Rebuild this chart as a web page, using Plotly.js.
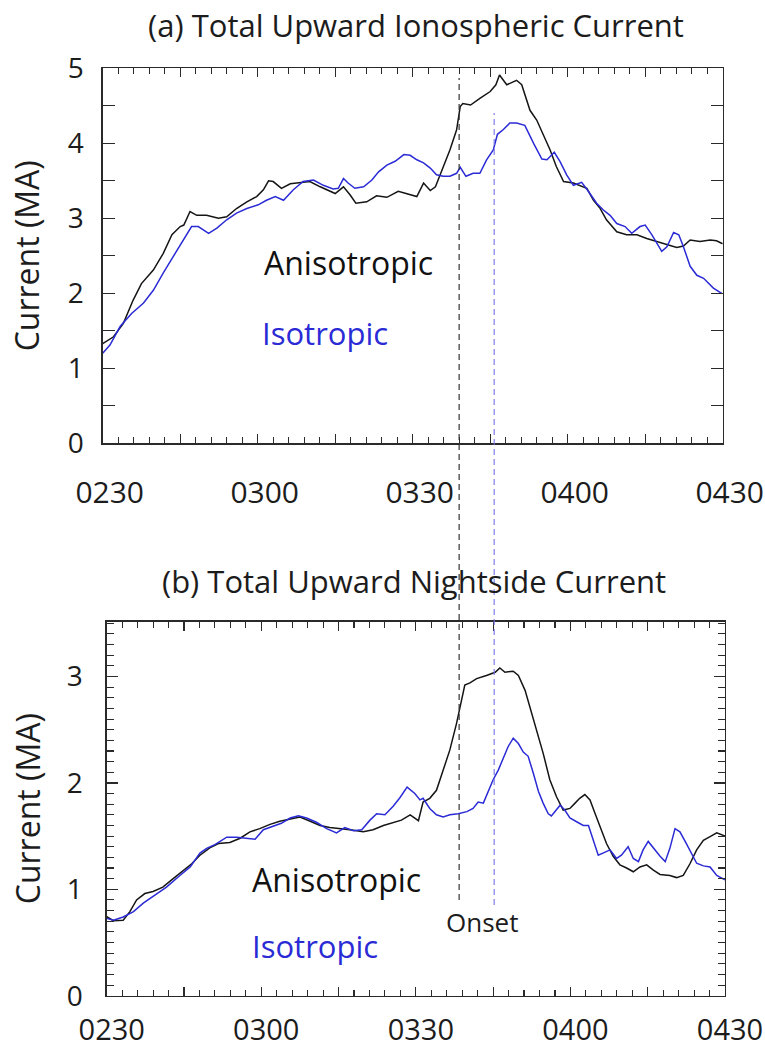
<!DOCTYPE html>
<html>
<head>
<meta charset="utf-8">
<script src="https://cdn.plot.ly/plotly-3.0.1.min.js"></script>
<style>html,body{margin:0;padding:0;background:#fff;}</style>
</head>
<body>
<div id="chart" style="width:765px;height:1047px;"></div>
<script>
// ---------- DATA (time in minutes after 02:30 UT, current in MA) ----------
const topAnisoT = [0,2.1,4.0,5.9,7.5,9.8,11.7,13.4,15.0,15.7,16.9,18.2,20.1,22.4,24.0,25.9,27.9,29.8,31.1,32.1,33.0,34.6,36.3,38.2,40.1,42.1,44.0,45.0,46.6,47.9,49.0,51.1,53.0,55.0,57.2,58.8,60.8,62.1,63.4,64.4,65.6,67.2,68.5,69.2,69.7,71.2,73.0,75.0,76.1,76.8,78.2,80.1,81.1,82.7,84.0,85.3,86.6,87.8,89.2,91.1,92.4,93.7,95.0,96.3,97.5,99.5,101.4,103.4,105.3,107.2,109.2,111.1,112.4,113.7,115.6,117.6,118.8,120];
const topAnisoV = [1.33,1.42,1.6,1.91,2.13,2.31,2.53,2.78,2.89,2.91,3.09,3.04,3.04,3.0,3.02,3.13,3.22,3.29,3.38,3.5,3.49,3.4,3.46,3.48,3.49,3.42,3.36,3.33,3.42,3.31,3.2,3.22,3.3,3.28,3.36,3.33,3.29,3.47,3.37,3.42,3.64,3.91,4.18,4.49,4.53,4.51,4.6,4.69,4.78,4.91,4.78,4.84,4.78,4.44,4.31,4.11,3.91,3.69,3.49,3.47,3.44,3.4,3.24,3.13,2.98,2.82,2.78,2.78,2.73,2.69,2.64,2.61,2.63,2.71,2.69,2.71,2.7,2.66];

const topIsoT = [0,1.4,3.4,5.6,7.9,9.8,11.7,13.7,15.6,17.2,18.5,20.5,22.1,24.0,25.9,27.9,30.1,31.7,33.4,35.0,36.9,38.8,40.8,42.7,44.6,45.6,46.6,47.5,48.8,50.5,52.1,53.4,55.0,56.6,58.3,59.5,60.8,62.1,63.4,64.6,65.9,67.2,68.5,69.2,70.3,71.7,73.0,74.3,75.6,76.4,77.5,78.8,80.1,81.7,83.4,85.0,86.0,87.4,88.5,89.8,91.1,92.7,94.0,95.6,96.9,98.2,99.5,101.1,102.4,104.0,105.0,106.3,108.2,109.2,110.5,111.5,112.4,113.7,115.0,116.3,118.2,119.8];
const topIsoV = [1.2,1.31,1.56,1.73,1.87,2.04,2.27,2.49,2.71,2.89,2.89,2.8,2.87,2.98,3.07,3.13,3.18,3.24,3.29,3.24,3.38,3.49,3.51,3.44,3.39,3.4,3.53,3.47,3.4,3.42,3.51,3.62,3.71,3.76,3.85,3.84,3.78,3.74,3.67,3.58,3.56,3.56,3.6,3.68,3.56,3.6,3.6,3.78,3.91,4.12,4.18,4.27,4.27,4.24,4.0,3.79,3.78,3.88,3.76,3.58,3.44,3.48,3.36,3.2,3.11,3.04,2.93,2.89,2.8,2.89,2.91,2.78,2.56,2.62,2.81,2.78,2.62,2.36,2.24,2.2,2.07,2.0];

const botAnisoT = [0,1.3,3.2,4.5,5.8,7.4,9.0,10.9,12.9,14.9,16.5,18.1,20.0,21.7,23.9,25.9,27.8,29.7,31.7,33.6,35.6,37.5,39.5,41.4,43.3,45.3,47.2,49.8,51.7,53.7,55.6,57.2,58.9,60.5,61.4,62.7,64.0,65.3,66.6,67.9,68.9,69.5,70.5,71.8,73.7,75.4,76.3,77.3,78.9,79.9,81.2,82.1,83.4,84.7,86.0,87.3,88.6,89.9,90.9,91.8,92.8,93.8,94.8,95.7,97.0,98.3,99.6,100.9,102.2,103.5,104.8,106.1,107.4,109.3,110.6,111.9,113.2,114.5,115.8,117.1,118.4,120];
const botAnisoV = [0.743,0.705,0.71,0.79,0.9,0.96,0.98,1.02,1.10,1.18,1.24,1.32,1.39,1.43,1.44,1.48,1.54,1.57,1.61,1.64,1.66,1.68,1.64,1.60,1.58,1.57,1.56,1.54,1.56,1.60,1.63,1.65,1.70,1.645,1.82,1.855,1.93,2.12,2.31,2.56,2.78,2.92,2.94,2.98,3.01,3.04,3.08,3.04,3.05,3.01,2.87,2.72,2.50,2.28,2.03,1.87,1.745,1.76,1.81,1.855,1.89,1.84,1.71,1.59,1.43,1.31,1.23,1.20,1.165,1.21,1.23,1.18,1.14,1.13,1.11,1.13,1.24,1.37,1.46,1.495,1.53,1.50];

const botIsoT = [0,1.3,3.2,5.2,7.1,9.0,11.6,14.2,16.2,18.1,19.4,21.0,23.3,25.2,27.2,28.8,30.4,32.3,33.9,35.6,37.2,38.8,40.7,42.7,44.6,46.2,47.9,49.5,51.1,52.4,54.0,55.6,56.9,58.3,59.8,60.8,61.4,62.7,64.0,65.3,66.6,68.2,69.9,71.1,72.1,73.1,74.1,75.0,76.0,77.0,77.9,78.9,79.9,80.85,81.8,82.8,83.8,84.7,85.7,86.3,87.3,88.0,88.9,89.9,91.2,92.5,93.5,94.4,95.4,96.3,97.7,98.95,99.9,101.2,102.2,103.2,104.1,105.1,106.4,107.4,108.4,109.3,110.3,111.25,112.5,113.5,114.5,115.8,117.1,118.4,120];
const botIsoV = [0.727,0.71,0.74,0.79,0.87,0.93,1.02,1.13,1.21,1.34,1.385,1.42,1.49,1.49,1.48,1.47,1.56,1.59,1.62,1.67,1.69,1.67,1.63,1.57,1.53,1.58,1.55,1.56,1.65,1.71,1.70,1.78,1.86,1.96,1.90,1.84,1.855,1.76,1.70,1.68,1.70,1.71,1.73,1.76,1.82,1.81,1.92,2.03,2.12,2.23,2.34,2.42,2.37,2.29,2.25,2.09,1.92,1.81,1.71,1.69,1.745,1.79,1.745,1.67,1.635,1.60,1.60,1.46,1.32,1.34,1.37,1.29,1.32,1.40,1.29,1.26,1.37,1.45,1.37,1.31,1.26,1.385,1.57,1.54,1.43,1.34,1.245,1.22,1.21,1.13,1.09];

const timeTickVals = [0,30,60,90,120];
const timeTickText = ['0230','0300','0330','0400','0430'];
const topYLabelVals = [0,1,2,3,4,5];
const botYLabelVals = [0,1,2,3];
const onsetTimes = [68.4, 75.2];   // black (anisotropic) and blue (isotropic) onsets
const onsetLabel = 'Onset';

// ---------- LAYOUT HELPERS ----------
const W = 765, H = 1047, ml = 60, mr = 20, mt = 40, mb = 30;
const PW = W - ml - mr, PH = H - mt - mb;
const px = X => (X - ml) / PW;
const py = Y => (H - mb - Y) / PH;

const FONT = '"Open Sans", "Noto Sans", sans-serif';
const INK = '#1c1c1c';
const AX = '#2a2a2a';
const BLUE = '#2b2bd6';

// major time ticks every 15 min, labels every 30 min
const xMajorVals = [], xMajorText = [];
timeTickVals.forEach((v, i) => {
  xMajorVals.push(v); xMajorText.push(timeTickText[i]);
  if (i < timeTickVals.length - 1) { xMajorVals.push((v + timeTickVals[i + 1]) / 2); xMajorText.push(''); }
});
// top panel y ticks every 0.5, labels on integers
const topYVals = [], topYText = [];
topYLabelVals.forEach((v, i) => {
  topYVals.push(v); topYText.push(String(v));
  if (i < topYLabelVals.length - 1) { topYVals.push(v + 0.5); topYText.push(''); }
});

function xAxis(domain, anchor, shift, standoff, fsize) {
  return {
    domain: domain, anchor: anchor, range: [0, 120],
    tickmode: 'array', tickvals: xMajorVals, ticktext: xMajorText,
    ticks: 'inside', ticklen: 9, tickwidth: 1.2, tickcolor: AX,
    minor: {tickmode: 'linear', tick0: 0, dtick: 3, ticks: 'inside', ticklen: 6, tickwidth: 1.1, tickcolor: AX},
    showline: true, linecolor: AX, linewidth: 1.3, mirror: 'allticks',
    showgrid: false, zeroline: false,
    tickfont: {family: FONT, size: fsize, color: INK},
    ticklabelshift: shift, ticklabelstandoff: standoff, ticklabeloverflow: 'allow'
  };
}

const traces = [
  {x: topAnisoT, y: topAnisoV, xaxis: 'x', yaxis: 'y', type: 'scatter', mode: 'lines', name: 'Anisotropic', line: {color: '#151515', width: 1.5}},
  {x: topIsoT, y: topIsoV, xaxis: 'x', yaxis: 'y', type: 'scatter', mode: 'lines', name: 'Isotropic', line: {color: BLUE, width: 1.5}},
  {x: botAnisoT, y: botAnisoV, xaxis: 'x2', yaxis: 'y2', type: 'scatter', mode: 'lines', name: 'Anisotropic', line: {color: '#151515', width: 1.5}},
  {x: botIsoT, y: botIsoV, xaxis: 'x2', yaxis: 'y2', type: 'scatter', mode: 'lines', name: 'Isotropic', line: {color: BLUE, width: 1.5}}
];

const layout = {
  width: W, height: H,
  margin: {l: ml, r: mr, t: mt, b: mb},
  paper_bgcolor: '#fff', plot_bgcolor: '#fff',
  showlegend: false,
  font: {family: FONT, color: INK},
  title: {text: '(a) Total Upward Ionospheric Current', font: {family: FONT, size: 31, color: INK},
          xref: 'container', yref: 'container', x: 416 / W, xanchor: 'center', y: 1 - 26 / H, yanchor: 'middle'},
  xaxis: xAxis([px(102.7), px(722.7)], 'y', 7, 22, 30),
  yaxis: {
    domain: [py(443.3), py(68.3)], anchor: 'x', range: [0, 5],
    tickmode: 'array', tickvals: topYVals, ticktext: topYText,
    ticks: 'inside', ticklen: 12, tickwidth: 1.2, tickcolor: AX,
    showline: true, linecolor: AX, linewidth: 1.3, mirror: 'allticks',
    showgrid: false, zeroline: false,
    tickfont: {family: FONT, size: 28, color: INK}, ticklabelstandoff: 12,
    title: {text: 'Current (MA)', font: {family: FONT, size: 32, color: INK}, standoff: 18}
  },
  xaxis2: xAxis([px(106.7), px(725)], 'y2', 5, 8, 29),
  yaxis2: {
    domain: [py(995.7), py(621.7)], anchor: 'x2', range: [0, 3.515],
    tickmode: 'array', tickvals: botYLabelVals, ticktext: botYLabelVals.map(String),
    ticks: 'inside', ticklen: 11, tickwidth: 1.2, tickcolor: AX,
    minor: {tickmode: 'linear', tick0: 0, dtick: 0.1, ticks: 'inside', ticklen: 7, tickwidth: 1.1, tickcolor: AX},
    showline: true, linecolor: AX, linewidth: 1.3, mirror: 'allticks',
    showgrid: false, zeroline: false,
    tickfont: {family: FONT, size: 28, color: INK}, ticklabelstandoff: 17,
    title: {text: 'Current (MA)', font: {family: FONT, size: 32, color: INK}, standoff: 16}
  },
  shapes: [
    {type: 'line', xref: 'x2', yref: 'paper', x0: onsetTimes[0], x1: onsetTimes[0], y0: py(900), y1: py(78),
     line: {color: '#333333', width: 1.2, dash: '6px,4px'}, layer: 'above'},
    {type: 'line', xref: 'x2', yref: 'paper', x0: onsetTimes[1], x1: onsetTimes[1], y0: py(905), y1: py(113),
     line: {color: '#7474e8', width: 1.1, dash: '6px,4px'}, layer: 'above'}
  ],
  annotations: [
    {text: '(b) Total Upward Nightside Current', xref: 'paper', yref: 'paper', x: px(414), y: py(581),
     xanchor: 'center', yanchor: 'middle', showarrow: false, font: {family: FONT, size: 31, color: INK}},
    {text: 'Anisotropic', xref: 'paper', yref: 'paper', x: px(348), y: py(262), xanchor: 'center', yanchor: 'middle',
     showarrow: false, font: {family: FONT, size: 32, color: '#111'}},
    {text: 'Isotropic', xref: 'paper', yref: 'paper', x: px(325), y: py(333), xanchor: 'center', yanchor: 'middle',
     showarrow: false, font: {family: FONT, size: 31, color: BLUE}},
    {text: 'Anisotropic', xref: 'paper', yref: 'paper', x: px(336), y: py(879), xanchor: 'center', yanchor: 'middle',
     showarrow: false, font: {family: FONT, size: 32, color: '#111'}},
    {text: 'Isotropic', xref: 'paper', yref: 'paper', x: px(315), y: py(946), xanchor: 'center', yanchor: 'middle',
     showarrow: false, font: {family: FONT, size: 31, color: BLUE}},
    {text: onsetLabel, xref: 'paper', yref: 'paper', x: px(482), y: py(922), xanchor: 'center', yanchor: 'middle',
     showarrow: false, font: {family: FONT, size: 26, color: INK}}
  ]
};

Plotly.newPlot('chart', traces, layout, {staticPlot: true, displayModeBar: false});
</script>
</body>
</html>
